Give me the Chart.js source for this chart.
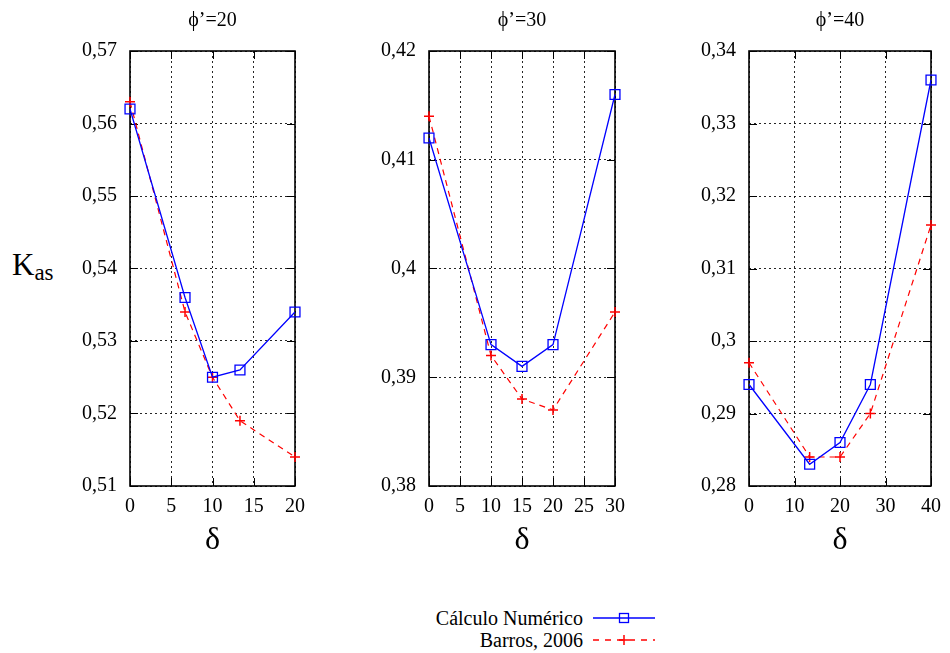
<!DOCTYPE html>
<html lang="es">
<head>
<meta charset="UTF-8" />
<title>Kas - Cálculo Numérico vs Barros 2006</title>
<script src="https://cdn.jsdelivr.net/npm/chart.js"></script>
<style>
body { margin:0; background:#fff; width:950px; height:653px; position:relative; overflow:hidden; font-family:"Liberation Serif", "Times New Roman", "DejaVu Serif", serif; color:#000; }
canvas { position:absolute; top:0; }
#kas { position:absolute; left:12px; top:249px; font-size:31px; line-height:32px; }
#kas sub { font-size:23px; vertical-align:baseline; position:relative; top:5px; }
.lbl { position:absolute; right:367px; font-size:20px; line-height:24px; white-space:nowrap; }
.sym { position:absolute; left:593px; }
</style>
</head>
<body>
<canvas id="g20" width="255" height="570" style="left:60px"></canvas>
<canvas id="g30" width="276" height="570" style="left:359px"></canvas>
<canvas id="g40" width="271" height="570" style="left:679px"></canvas>
<div id="kas">K<sub>as</sub></div>

<span class="lbl" style="top:606px">Cálculo Numérico</span>
<svg class="sym" style="top:608px" width="62" height="20">
  <line x1="0" y1="10" x2="62" y2="10" stroke="#0000ff" stroke-width="1.3"/>
  <rect x="26.5" y="5.5" width="9" height="9" fill="none" stroke="#0000ff" stroke-width="1.3"/>
</svg>
<span class="lbl" style="top:628px">Barros, 2006</span>
<svg class="sym" style="top:630px" width="62" height="20">
  <line x1="0" y1="10" x2="62" y2="10" stroke="#ff0000" stroke-width="1.3" stroke-dasharray="6,6"/>
  <line x1="26" y1="10" x2="36" y2="10" stroke="#ff0000" stroke-width="1.5"/>
  <line x1="31" y1="5" x2="31" y2="15" stroke="#ff0000" stroke-width="1.5"/>
</svg>

<script>
// datos
const delta20 = [0, 6.67, 10, 13.33, 20];
const numerico20 = [0.562, 0.536, 0.525, 0.526, 0.534];
const barros20 = [0.563, 0.534, 0.525, 0.519, 0.514];

const delta30 = [0, 10, 15, 20, 30];
const numerico30 = [0.412, 0.393, 0.391, 0.393, 0.416];
const barros30 = [0.414, 0.392, 0.388, 0.387, 0.396];

const delta40 = [0, 13.33, 20, 26.67, 40];
const numerico40 = [0.294, 0.283, 0.286, 0.294, 0.336];
const barros40 = [0.297, 0.284, 0.284, 0.290, 0.316];

const FUENTE = "'Liberation Serif', 'Times New Roman', 'DejaVu Serif', serif";

// marco y marcas de ticks hacia dentro (estilo gnuplot)
const marcoPlugin = {
  id: 'marco',
  beforeDatasetsDraw(chart) {
    const { ctx, chartArea: a, scales } = chart;
    ctx.save();
    ctx.strokeStyle = '#000';
    ctx.lineWidth = 1;
    ctx.beginPath();
    scales.y.ticks.forEach(t => {
      const py = Math.round(scales.y.getPixelForValue(t.value)) + 0.5;
      ctx.moveTo(a.left, py); ctx.lineTo(a.left + 8, py);
      ctx.moveTo(a.right, py); ctx.lineTo(a.right - 8, py);
    });
    scales.x.ticks.forEach(t => {
      const px = Math.round(scales.x.getPixelForValue(t.value)) + 0.5;
      ctx.moveTo(px, a.bottom); ctx.lineTo(px, a.bottom - 8);
      ctx.moveTo(px, a.top); ctx.lineTo(px, a.top + 8);
    });
    ctx.stroke();
    ctx.lineWidth = 1.6;
    ctx.strokeRect(a.left, a.top, a.right - a.left, a.bottom - a.top);
    ctx.restore();
  }
};

function formatoComa(v) {
  return String(Math.round(v * 100) / 100).replace('.', ',');
}

function puntos(xs, ys) {
  return xs.map((x, i) => ({ x: x, y: ys[i] }));
}

function graficar(id, titulo, deltas, numerico, barros, xMax, xPaso, yMin, yMax) {
  new Chart(document.getElementById(id), {
    type: 'line',
    data: {
      datasets: [
        {
          label: 'Cálculo Numérico',
          data: puntos(deltas, numerico),
          borderColor: '#0000ff',
          borderWidth: 1.3,
          pointStyle: 'rect',
          pointRadius: 7,
          pointBorderWidth: 1.3,
          pointBackgroundColor: 'rgba(0,0,0,0)',
          pointBorderColor: '#0000ff',
          fill: false,
          tension: 0,
          clip: false
        },
        {
          label: 'Barros, 2006',
          data: puntos(deltas, barros),
          borderColor: '#ff0000',
          borderWidth: 1.2,
          borderDash: [6, 5],
          pointStyle: 'cross',
          pointRadius: 5,
          pointBorderWidth: 1.5,
          pointBorderColor: '#ff0000',
          fill: false,
          tension: 0,
          clip: false
        }
      ]
    },
    options: {
      responsive: false,
      animation: false,
      events: [],
      layout: { padding: { top: 0, left: 0, right: id === 'g40' ? 15 : 20, bottom: 0 } },
      plugins: {
        legend: { display: false },
        tooltip: { enabled: false },
        title: {
          display: true,
          text: titulo,
          fullSize: false,
          color: '#000',
          font: { family: FUENTE, size: 20, weight: 'normal' },
          padding: { top: 9, bottom: 18 }
        }
      },
      scales: {
        x: {
          type: 'linear',
          min: 0,
          max: xMax,
          afterFit: s => { s.height = 84; },
          ticks: { stepSize: xPaso, color: '#000', padding: 9, maxRotation: 0,
                   font: { family: FUENTE, size: 20 } },
          grid: { color: 'rgba(0,0,0,0.85)', lineWidth: 1, drawTicks: false },
          border: { display: false, dash: [2, 3] },
          title: { display: true, text: 'δ', color: '#000',
                   font: { family: FUENTE, size: 32 }, padding: { top: 0, bottom: 10 } }
        },
        y: {
          min: yMin,
          max: yMax,
          afterFit: s => { s.width = 70; },
          ticks: { stepSize: 0.01, color: '#000', padding: 13,
                   font: { family: FUENTE, size: 20 },
                   callback: v => formatoComa(v) },
          grid: { color: 'rgba(0,0,0,0.85)', lineWidth: 1, drawTicks: false },
          border: { display: false, dash: [2, 3] }
        }
      }
    },
    plugins: [marcoPlugin]
  });
}

graficar('g20', 'ϕ’=20', delta20, numerico20, barros20, 20, 5, 0.51, 0.57);
graficar('g30', 'ϕ’=30', delta30, numerico30, barros30, 30, 5, 0.38, 0.42);
graficar('g40', 'ϕ’=40', delta40, numerico40, barros40, 40, 10, 0.28, 0.34);
</script>
</body>
</html>
